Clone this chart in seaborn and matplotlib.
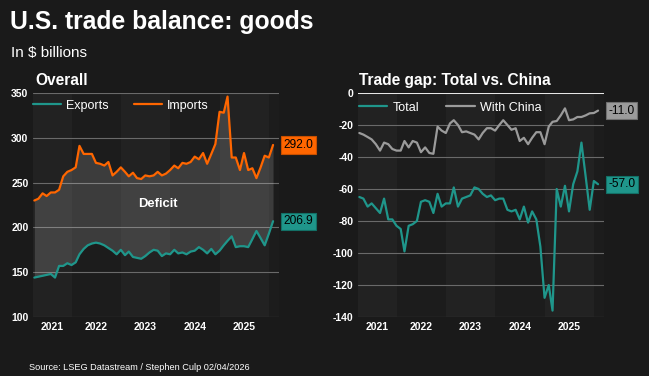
import numpy as np
import pandas as pd
import seaborn as sns
import matplotlib.pyplot as plt
from matplotlib import font_manager

# monthly, Apr 2021 - Feb 2026, $ billions
months = pd.date_range("2021-04-01", "2026-02-01", freq="MS")

exports = [144, 145, 146, 147, 148, 144, 157, 157, 160, 158,
           161, 170, 176, 180, 182, 183, 182, 180, 177, 174,
           170, 175, 169, 173, 167, 166, 165, 168, 172, 175,
           174, 168, 171, 170, 175, 171, 172, 170, 173, 174,
           178, 175, 171, 176, 170, 174, 180, 185, 190, 178,
           179, 179, 178, 187, 196, 188, 180, 193, 206.9]

imports = [230, 232, 238, 235, 239, 239, 242, 257, 262, 264,
           267, 291, 282, 282, 282, 272, 271, 269, 273, 258,
           262, 267, 262, 257, 261, 255, 254, 258, 257, 258,
           262, 258, 260, 264, 269, 266, 272, 271, 273, 279,
           276, 283, 271, 282, 293, 329, 328, 346, 278, 278,
           264, 283, 264, 266, 255, 267, 280, 278, 292.0]

total_gap = [-65, -66, -71, -69, -72, -75, -66, -79, -79, -83,
             -85, -99, -83, -82, -80, -68, -67, -68, -75, -63,
             -71, -69, -69, -59, -71, -66, -65, -64, -59, -60,
             -63, -65, -64, -67, -66, -66, -73, -74, -73, -79,
             -71, -81, -74, -79, -96, -128, -120, -136, -60, -71,
             -58, -74, -57, -49, -31, -52, -73, -55, -57.0]

china_gap = [-25, -26, -27.5, -29, -32, -36, -31, -32, -35, -36,
             -36, -30, -34, -30, -31, -37, -34, -37.5, -38, -21,
             -23.5, -25, -19, -17, -20, -24.5, -24, -25, -26, -29,
             -25, -22, -22, -23.5, -20, -17, -20, -23, -22, -30,
             -28, -32, -28, -24.5, -24.5, -32, -21, -18, -17.5, -14,
             -9.6, -17, -16.5, -15, -15, -14, -12.7, -12.5, -11.0]

year_labels = [2021, 2022, 2023, 2024, 2025]
left_yticks = [100, 150, 200, 250, 300, 350]
right_yticks = [-140, -120, -100, -80, -60, -40, -20, 0]

BG = "#1a1a1a"
TEAL = "#1f968b"
ORANGE = "#ff6600"
GRAY = "#9b9b9b"
GRID = "#6a6a6a"

sns.set_style("dark")
plt.rcParams['font.family'] = ['Liberation Sans', 'DejaVu Sans']

# narrow face for the source line if there is one
installed = {f.name for f in font_manager.fontManager.ttflist}
if 'Liberation Sans Narrow' in installed:
    src_family, src_size = ['Liberation Sans Narrow', 'DejaVu Sans'], 7.6
else:
    src_family, src_size = ['Liberation Sans', 'DejaVu Sans'], 6.6

fig = plt.figure(figsize=(6.49, 3.76), dpi=100, facecolor=BG)
ax1 = fig.add_axes([33 / 649, 59 / 376, 246 / 649, 224 / 376])
ax2 = fig.add_axes([358 / 649, 59 / 376, 246 / 649, 224 / 376])

xlo = months[0] - pd.Timedelta(days=10)
xhi = months[-1] + pd.Timedelta(days=44)


def style_axes(ax, ylim, yticks):
    ax.set_facecolor(BG)
    ax.set_xlim(xlo, xhi)
    ax.set_ylim(*ylim)

    # alternating year bands
    for yr in range(2021, 2027):
        a = max(pd.Timestamp(f"{yr}-01-01"), xlo)
        b = min(pd.Timestamp(f"{yr + 1}-01-01"), xhi)
        ax.axvspan(a, b, color="#222222" if yr % 2 else "#1c1c1c", lw=0, zorder=0)

    ax.set_yticks(yticks)
    ax.set_yticklabels([str(t) for t in yticks])
    ticks = []
    for yr in year_labels:
        a = max(pd.Timestamp(f"{yr}-01-01"), xlo)
        b = pd.Timestamp(f"{yr + 1}-01-01")
        ticks.append(a + (b - a) / 2)
    ax.set_xticks(ticks)
    ax.set_xticklabels([str(y) for y in year_labels])

    ax.grid(axis='y', color=GRID, lw=0.8)
    ax.grid(axis='x', visible=False)
    ax.set_axisbelow(True)
    for s in ax.spines.values():
        s.set_visible(False)
    ax.tick_params(length=0, colors='white', labelsize=7.5)
    ax.tick_params(axis='x', pad=3.5)
    ax.tick_params(axis='y', pad=3.3)
    for lab in ax.get_xticklabels() + ax.get_yticklabels():
        lab.set_fontweight('bold')


def end_label(ax, value, face, edge):
    ax.annotate(f"{value:.1f}", xy=(1, value), xycoords=ax.get_yaxis_transform(),
                xytext=(3.0, 0), textcoords='offset points', ha='left', va='center',
                fontsize=8.6, color='black', annotation_clip=False,
                bbox=dict(boxstyle='square,pad=0.22', fc=face, ec=edge, lw=0.8))


# Overall
style_axes(ax1, (100, 350), left_yticks)
ax1.fill_between(months, exports, imports, color='white', alpha=0.14, lw=0, zorder=1)
sns.lineplot(x=months, y=exports, ax=ax1, color=TEAL, lw=1.6, label='Exports', zorder=3)
sns.lineplot(x=months, y=imports, ax=ax1, color=ORANGE, lw=1.6, label='Imports', zorder=3)
ax1.text(pd.Timestamp("2023-10-01"), 226, "Deficit", color='white', fontsize=9.4,
         fontweight='bold', ha='center', va='center', zorder=4)
ax1.legend(ncol=2, loc='center left', bbox_to_anchor=(0, 0.943), frameon=False,
           fontsize=9, handlelength=2.25, handletextpad=0.4, columnspacing=2.0,
           borderpad=0, borderaxespad=0, labelcolor='white')
end_label(ax1, imports[-1], ORANGE, "#c85000")
end_label(ax1, exports[-1], TEAL, "#137066")

# Trade gap
style_axes(ax2, (-140, 0), right_yticks)
ax2.axhline(0, color='white', lw=1.2, zorder=2)
sns.lineplot(x=months, y=total_gap, ax=ax2, color=TEAL, lw=1.6, label='Total', zorder=3)
sns.lineplot(x=months, y=china_gap, ax=ax2, color=GRAY, lw=1.6, label='With China', zorder=3)
ax2.legend(ncol=2, loc='center left', bbox_to_anchor=(0.005, 0.935), frameon=False,
           fontsize=9, handlelength=2.25, handletextpad=0.4, columnspacing=2.2,
           borderpad=0, borderaxespad=0, labelcolor='white')
end_label(ax2, china_gap[-1], GRAY, "#6f6f6f")
end_label(ax2, total_gap[-1], TEAL, "#137066")

for ax in (ax1, ax2):
    ax.set_xlabel("")
    ax.set_ylabel("")

# titles
fig.text(10 / 649, 1 - 28.5 / 376, "U.S. trade balance: goods", color='white',
         fontsize=17.8, fontweight='bold', va='baseline')
fig.text(11 / 649, 1 - 56.5 / 376, "In $ billions", color='white', fontsize=11, va='baseline')
fig.text(35 / 649, 1 - 85 / 376, "Overall", color='white', fontsize=11.2,
         fontweight='bold', va='baseline')
fig.text(359 / 649, 1 - 85 / 376, "Trade gap: Total vs. China", color='white',
         fontsize=11.2, fontweight='bold', va='baseline')
fig.text(29 / 649, 1 - 370.5 / 376, "Source: LSEG Datastream / Stephen Culp 02/04/2026",
         color='white', fontsize=src_size, va='baseline', family=src_family)

fig.savefig("out.png", dpi=100, facecolor=BG)
